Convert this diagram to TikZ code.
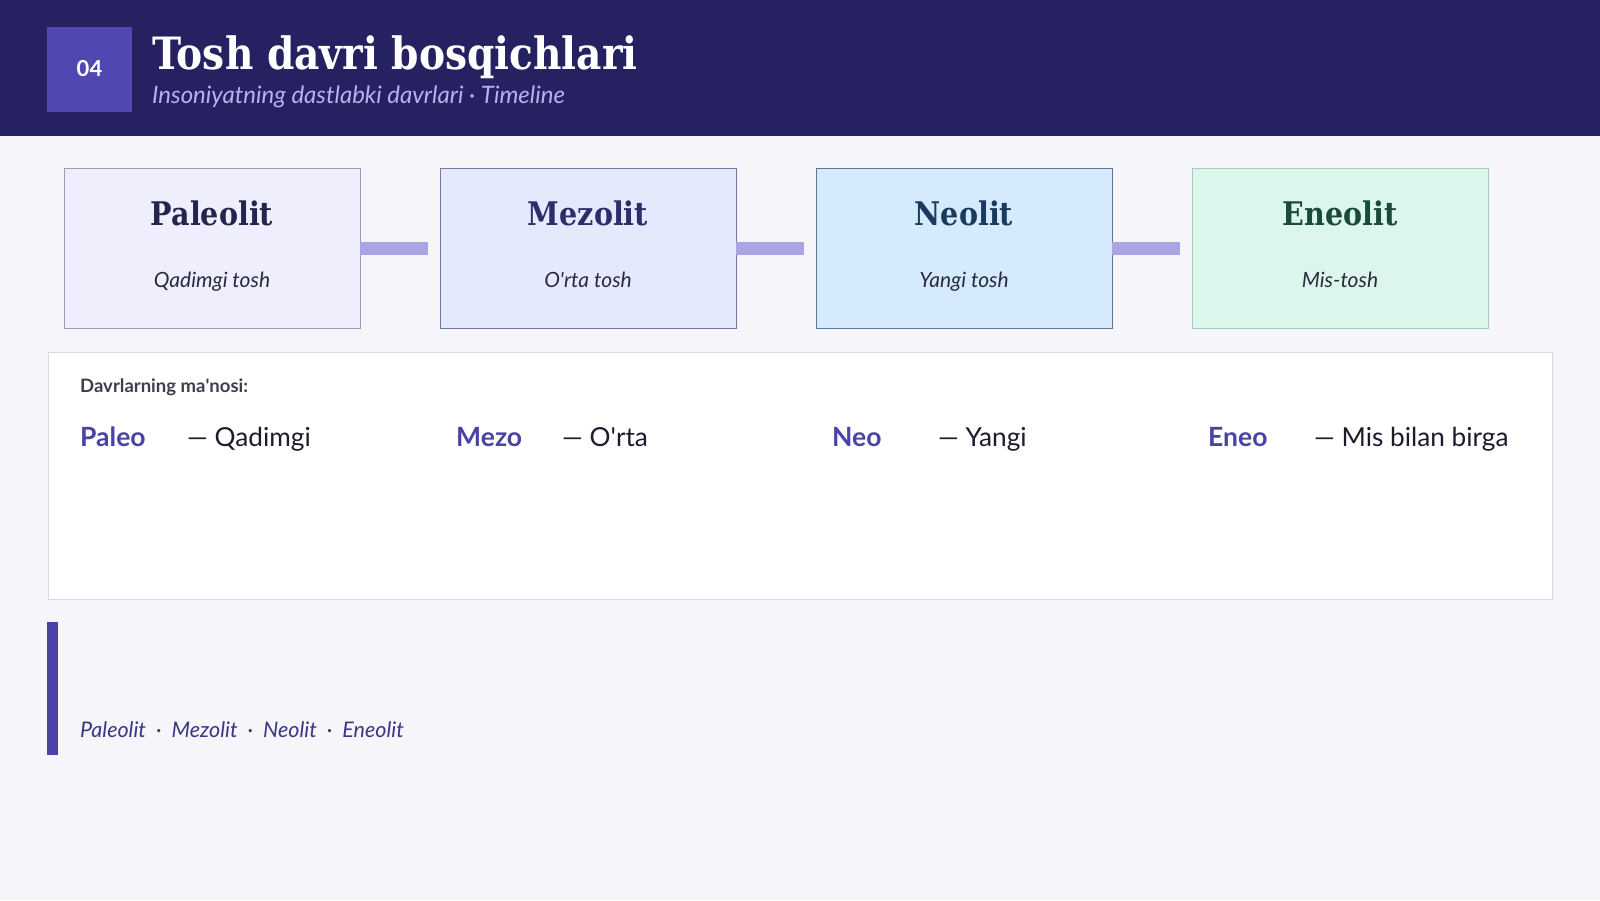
\documentclass[tikz,border=0pt]{standalone}
\usepackage{fontspec}
\setmainfont{Lato}
\newfontfamily\headfont{DejaVu Serif}[FakeStretch=0.88]
\usetikzlibrary{positioning}
\definecolor{pagebg}{HTML}{F5F5FA}
\definecolor{headbg}{HTML}{262261}
\definecolor{badgebg}{HTML}{5047B2}
\definecolor{subhead}{HTML}{B6B2EE}
\definecolor{linkc}{HTML}{AAA5E2}
\definecolor{accent}{HTML}{4A43A6}
\definecolor{inktext}{HTML}{1C1C2C}
\definecolor{cardsub}{HTML}{2A2A40}
\definecolor{paleofill}{HTML}{EEEEFC}
\definecolor{paleodraw}{HTML}{9C9CB8}
\definecolor{paleoink}{HTML}{24244C}
\definecolor{mezofill}{HTML}{E5E9FC}
\definecolor{mezodraw}{HTML}{7478A4}
\definecolor{mezoink}{HTML}{2D2D6C}
\definecolor{neofill}{HTML}{D5EAFC}
\definecolor{neodraw}{HTML}{5C7898}
\definecolor{neoink}{HTML}{1A3A5E}
\definecolor{eneofill}{HTML}{DDF6EC}
\definecolor{eneodraw}{HTML}{A4CABA}
\definecolor{eneoink}{HTML}{1A4A3A}
\definecolor{panelline}{HTML}{D9D9E2}

\begin{document}
\begin{tikzpicture}[x=1pt,y=-1pt,
    card/.style={thick,minimum width=296,minimum height=160,inner sep=0},
    cardtitle/.style={font=\headfont\bfseries\fontsize{32.5}{36}\selectfont,inner sep=0},
    cardsub/.style={font=\itshape\fontsize{21}{24}\selectfont,text=cardsub,inner sep=0},
    link/.style={line width=13,linkc,shorten >=12},
    word/.style={anchor=base west,inner sep=0,font=\bfseries\fontsize{26.5}{29}\selectfont,text=accent},
    gloss/.style={anchor=base west,inner sep=0,font=\fontsize{26.2}{29}\selectfont,text=inktext}]

    % page and header
    \useasboundingbox (0,0) rectangle (1600,900);
    \fill[pagebg] (0,0) rectangle (1600,900);
    \fill[headbg] (0,0) rectangle (1600,136);

    \node[fill=badgebg,text=white,minimum width=85,minimum height=85,inner sep=0,
        font=\bfseries\fontsize{22}{24}\selectfont] (num) at (89.5,69) {\raisebox{-1pt}{04}};
    \node[anchor=base west,inner sep=0,text=white,font=\headfont\bfseries\fontsize{44.5}{48}\selectfont]
        (title) at (152,69) {Tosh davri bosqichlari};
    \node[anchor=base west,inner sep=0,text=subhead,font=\itshape\fontsize{24}{27}\selectfont]
        (subtitle) at (152,103) {Insoniyatning dastlabki davrlari · Timeline};

    % the four periods
    \node[card,fill=paleofill,draw=paleodraw] (paleo) at (212,248) {};
    \node[card,fill=mezofill,draw=mezodraw] (mezo) at (588,248) {};
    \node[card,fill=neofill,draw=neodraw] (neo) at (964,248) {};
    \node[card,fill=eneofill,draw=eneodraw] (eneo) at (1340,248) {};

    \node[cardtitle,text=paleoink,anchor=base] (paleoT) at (212,225) {Paleolit};
    \node[cardtitle,text=mezoink,anchor=base] (mezoT) at (588,225) {Mezolit};
    \node[cardtitle,text=neoink,anchor=base] (neoT) at (964,225) {Neolit};
    \node[cardtitle,text=eneoink,anchor=base] (eneoT) at (1340,225) {Eneolit};

    \node[cardsub,anchor=base] (paleoS) at (212,287) {Qadimgi tosh};
    \node[cardsub,anchor=base] (mezoS) at (588,287) {O\textquotesingle rta tosh};
    \node[cardsub,anchor=base] (neoS) at (964,287) {Yangi tosh};
    \node[cardsub,anchor=base] (eneoS) at (1340,287) {Mis-tosh};

    \draw[link] (paleo.east) -- (mezo.west);
    \draw[link] (mezo.east) -- (neo.west);
    \draw[link] (neo.east) -- (eneo.west);

    % meaning panel
    \node[fill=white,draw=panelline,minimum width=1504,minimum height=247,inner sep=0] (panel) at (800,475.5) {};
    \node[anchor=base west,inner sep=0,text=inktext!85!white,font=\bfseries\fontsize{18.5}{22}\selectfont]
        (panelT) at (80,392) {Davrlarning ma\textquotesingle nosi:};

    \node[word] (w1) at (80,446) {Paleo};
    \node[gloss] (g1) at (187,446) {— Qadimgi};
    \node[word] (w2) at (456,446) {Mezo};
    \node[gloss] (g2) at (562,446) {— O\textquotesingle rta};
    \node[word] (w3) at (832,446) {Neo};
    \node[gloss] (g3) at (938,446) {— Yangi};
    \node[word] (w4) at (1208,446) {Eneo};
    \node[gloss] (g4) at (1314,446) {— Mis bilan birga};

    % footer
    \fill[accent] (47,622) rectangle (58,755);
    \node[anchor=base west,inner sep=0,text=accent!80!black,font=\itshape\fontsize{21.5}{24}\selectfont]
        (trail) at (80,737) {Paleolit\hspace{10pt}·\hspace{10pt}Mezolit\hspace{10pt}·\hspace{10pt}Neolit\hspace{10pt}·\hspace{10pt}Eneolit};

    \end{tikzpicture}
\end{document}
